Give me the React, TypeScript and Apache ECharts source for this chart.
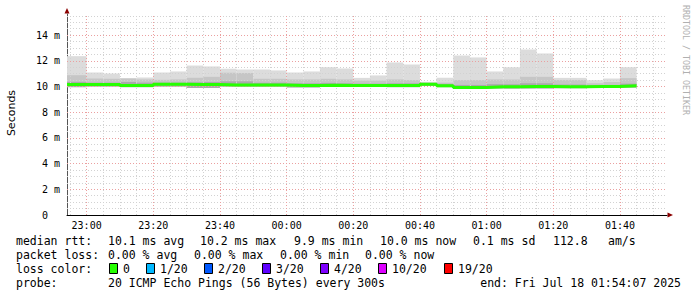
import React, { useEffect, useRef } from "react";
import * as echarts from "echarts";

// ---- data ----
const PERIOD_START = "22:54:07";
const PERIOD_END = "01:54:07";
const STEP_MIN = 5;
// end time of each 5-minute step
const stepEnds = [
  "23:00", "23:05", "23:10", "23:15", "23:20", "23:25", "23:30", "23:35", "23:40", "23:45", "23:50", "23:55",
  "00:00", "00:05", "00:10", "00:15", "00:20", "00:25", "00:30", "00:35", "00:40", "00:45", "00:50", "00:55",
  "01:00", "01:05", "01:10", "01:15", "01:20", "01:25", "01:30", "01:35", "01:40", "01:45",
];
// smoke: highest ping, upper edge of middle band, upper edge of inner band, median, lowest ping (ms)
const pingMax = [12.36, 11.09, 11.01, 10.65, 10.70, 11.09, 11.17, 11.63, 11.56, 11.38, 11.32, 11.32, 11.25, 11.09, 11.17, 11.50, 11.40, 10.67, 10.86, 11.87, 11.71, 10.36, 10.68, 12.41, 12.26, 11.17, 11.50, 12.88, 12.57, 10.67, 10.67, 10.49, 10.62, 11.50];
const pingMid = [10.88, 10.62, 10.60, 10.62, 10.55, 10.52, 10.55, 10.68, 10.75, 11.07, 11.05, 10.60, 10.60, 10.55, 10.55, 10.60, 10.55, 10.45, 10.45, 10.55, 10.50, 10.30, 10.30, 10.50, 10.50, 10.55, 10.55, 10.75, 10.75, 10.50, 10.50, 10.25, 10.35, 10.65];
const pingInner = [10.36, 10.30, 10.30, 10.35, 10.30, 10.30, 10.30, 10.32, 10.35, 10.40, 10.40, 10.30, 10.30, 10.25, 10.25, 10.28, 10.25, 10.22, 10.22, 10.25, 10.25, 10.26, 10.20, 10.12, 10.12, 10.18, 10.18, 10.25, 10.25, 10.15, 10.15, 10.10, 10.12, 10.22];
const pingMedian = [10.15, 10.16, 10.16, 10.08, 10.08, 10.17, 10.17, 10.16, 10.16, 10.12, 10.12, 10.12, 10.12, 10.07, 10.07, 10.10, 10.08, 10.08, 10.08, 10.08, 10.08, 10.18, 10.05, 9.93, 9.93, 9.98, 9.98, 10.00, 10.00, 9.98, 9.98, 10.00, 10.00, 10.05];
const pingMin = [9.95, 10.00, 10.00, 9.95, 9.95, 10.00, 10.00, 9.88, 9.88, 10.00, 10.00, 10.00, 10.00, 9.93, 9.93, 9.97, 9.97, 9.97, 9.97, 9.95, 9.95, 10.05, 9.95, 9.85, 9.85, 9.85, 9.85, 9.85, 9.85, 9.87, 9.87, 9.90, 9.90, 9.92];

const xTickLabels = ["23:00", "23:20", "23:40", "00:00", "00:20", "00:40", "01:00", "01:20", "01:40"];
const xMinorTicks = ["22:55", "23:05", "23:10", "23:15", "23:25", "23:30", "23:35", "23:45", "23:50", "23:55", "00:05", "00:10", "00:15", "00:25", "00:30", "00:35", "00:45", "00:50", "00:55", "01:05", "01:10", "01:15", "01:25", "01:30", "01:35", "01:45", "01:50"];
const yTickValues = [0, 2, 4, 6, 8, 10, 12, 14];
const yMinorTicks = [0.5, 1, 1.5, 2.5, 3, 3.5, 4.5, 5, 5.5, 6.5, 7, 7.5, 8.5, 9, 9.5, 10.5, 11, 11.5, 12.5, 13, 13.5, 14.5, 15, 15.5];
const Y_MAX = 15.64;

const statsRtt = ["median rtt:", "10.1 ms avg", "10.2 ms max", "9.9 ms min", "10.0 ms now", "0.1 ms sd", "112.8", "am/s"];
const statsLoss = ["packet loss:", "0.00 % avg", "0.00 % max", "0.00 % min", "0.00 % now"];
const lossLabels = ["0", "1/20", "2/20", "3/20", "4/20", "10/20", "19/20"];
const lossColors = ["#26ff00", "#00b8ff", "#0059ff", "#5e00ff", "#7e00ff", "#dd00ff", "#ff0000"];
const probeText = "20 ICMP Echo Pings (56 Bytes) every 300s";
const endText = "end: Fri Jul 18 01:54:07 2025";

// ---- helpers ----
const toMin = (s: string) => {
  const p = s.split(":").map(Number);
  const h = p[0] < 12 ? p[0] + 24 : p[0];
  return h * 60 + p[1] + (p[2] || 0) / 60 - 23 * 60;
};

const MONO = "'DejaVu Sans Mono', monospace";

export default function App() {
  const ref = useRef<HTMLDivElement>(null);
  useEffect(() => {
    if (!ref.current) return;
    const chart = echarts.init(ref.current, undefined, { renderer: "svg" });
    const xMin = toMin(PERIOD_START);
    const xMax = toMin(PERIOD_END);
    const ends = stepEnds.map(toMin);
    const smokeData = ends.map((e, i) => [e, pingMin[i], pingInner[i], pingMid[i], pingMax[i]]);
    const medianData: number[][] = ends.map((e, i) => [i === 0 ? xMin : e - STEP_MIN, pingMedian[i]]);
    medianData.push([ends[ends.length - 1], pingMedian[pingMedian.length - 1]]);

    const minorStyle = { color: "#d2d2d2", width: 1, type: [1, 2] as any };
    const majorStyle = { color: "#eba0a0", width: 1, type: [1, 2] as any };
    const gridLines: any[] = [];
    xMinorTicks.forEach((t) => gridLines.push({ xAxis: toMin(t), lineStyle: minorStyle }));
    yMinorTicks.forEach((v) => gridLines.push({ yAxis: v, lineStyle: minorStyle }));
    xTickLabels.forEach((t) => gridLines.push({ xAxis: toMin(t), lineStyle: majorStyle }));
    yTickValues.filter((v) => v > 0).forEach((v) => gridLines.push({ yAxis: v, lineStyle: majorStyle }));

    const rowY = [241, 255, 269, 283];
    const rttX = [16, 108, 200, 294, 380, 473, 553, 608];
    const lossX = [16, 108, 194, 280, 365];
    const sqX = [109, 146, 204, 262, 320, 378, 444];
    const txt = (x: number, y: number, s: string, extra: any = {}) => ({
      type: "text",
      x,
      y,
      silent: true,
      style: { text: s, fill: "#000", font: `11.5px ${MONO}`, verticalAlign: "middle", align: "left", ...extra },
    });
    const graphics: any[] = [];
    statsRtt.forEach((s, i) => graphics.push(txt(rttX[i], rowY[0], s)));
    statsLoss.forEach((s, i) => graphics.push(txt(lossX[i], rowY[1], s)));
    graphics.push(txt(16, rowY[2], "loss color:"));
    lossLabels.forEach((s, i) => {
      graphics.push({
        type: "rect",
        silent: true,
        shape: { x: sqX[i] + 0.5, y: rowY[2] - 5.5, width: 8, height: 10 },
        style: { fill: lossColors[i], stroke: "#000", lineWidth: 1 },
      });
      graphics.push(txt(sqX[i] + 14, rowY[2], s));
    });
    graphics.push(txt(16, rowY[3], "probe:"));
    graphics.push(txt(108, rowY[3], probeText));
    graphics.push(txt(681, rowY[3], endText, { align: "right" }));
    graphics.push({
      type: "text",
      x: 11,
      y: 113,
      rotation: Math.PI / 2,
      silent: true,
      style: { text: "Seconds", fill: "#000", font: "11px 'DejaVu Sans', sans-serif", align: "center", verticalAlign: "middle" },
    });
    graphics.push({
      type: "text",
      x: 686,
      y: 5,
      rotation: -Math.PI / 2,
      silent: true,
      style: { text: "RRDTOOL / TOBI OETIKER", fill: "#b0b0b0", font: `8.3px ${MONO}`, align: "left", verticalAlign: "middle" },
    });
    graphics.push({
      type: "polygon",
      silent: true,
      shape: { points: [[64.5, 13.5], [69.5, 13.5], [67, 8]] },
      style: { fill: "#8b0000" },
    });
    graphics.push({
      type: "polygon",
      silent: true,
      shape: { points: [[667.5, 212.5], [667.5, 217.5], [673, 215]] },
      style: { fill: "#8b0000" },
    });

    chart.setOption({
      animation: false,
      backgroundColor: "#ffffff",
      grid: { left: 67, right: 30, top: 14, bottom: 82 },
      xAxis: {
        type: "value",
        min: xMin,
        max: xMax,
        axisLine: { show: true, onZero: false, lineStyle: { color: "#000", width: 1 } },
        axisTick: { show: false },
        splitLine: { show: false },
        axisLabel: {
          customValues: xTickLabels.map(toMin),
          formatter: (v: number) => {
            const i = xTickLabels.map(toMin).findIndex((t) => Math.abs(t - v) < 0.01);
            return i >= 0 ? xTickLabels[i] : "";
          },
          color: "#000",
          fontFamily: "DejaVu Sans Mono",
          fontSize: 10,
          margin: 5,
          showMinLabel: true,
          showMaxLabel: true,
        },
      },
      yAxis: {
        type: "value",
        min: 0,
        max: Y_MAX,
        axisLine: { show: true, onZero: false, lineStyle: { color: "#555", width: 1 } },
        axisTick: { show: false },
        splitLine: { show: false },
        axisLabel: {
          customValues: yTickValues,
          formatter: (v: number) => (v === 0 ? "{z|0}" : `${v} m`),
          rich: { z: { padding: [0, 12, 0, 0], fontFamily: "DejaVu Sans Mono", fontSize: 10, color: "#000" } },
          color: "#000",
          fontFamily: "DejaVu Sans Mono",
          fontSize: 10,
          margin: 7,
        },
      },
      series: [
        {
          type: "custom",
          z: 2,
          silent: true,
          data: smokeData,
          renderItem: (params: any, api: any) => {
            const idx = params.dataIndex;
            const end = api.value(0);
            const start = idx === 0 ? xMin : end - STEP_MIN;
            const lo = api.value(1);
            const rect = (top: number, color: string) => {
              const p0 = api.coord([start, top]);
              const p1 = api.coord([end, lo]);
              return {
                type: "rect",
                shape: { x: p0[0], y: p0[1], width: p1[0] - p0[0], height: p1[1] - p0[1] },
                style: { fill: color },
              };
            };
            return {
              type: "group",
              children: [rect(api.value(4), "#dcdcdc"), rect(api.value(3), "#c6c6c6"), rect(api.value(2), "#aaaaaa")],
            };
          },
        },
        {
          type: "line",
          z: 3,
          silent: true,
          data: [],
          markLine: { silent: true, symbol: "none", label: { show: false }, animation: false, data: gridLines },
        },
        {
          type: "line",
          z: 5,
          silent: true,
          step: "end",
          symbol: "none",
          data: medianData,
          lineStyle: { color: "#26ff00", width: 3 },
        },
      ],
      graphic: graphics,
    });
    return () => chart.dispose();
  }, []);
  return <div ref={ref} style={{ position: "fixed", left: 0, top: 0, width: 697, height: 297 }} />;
}
